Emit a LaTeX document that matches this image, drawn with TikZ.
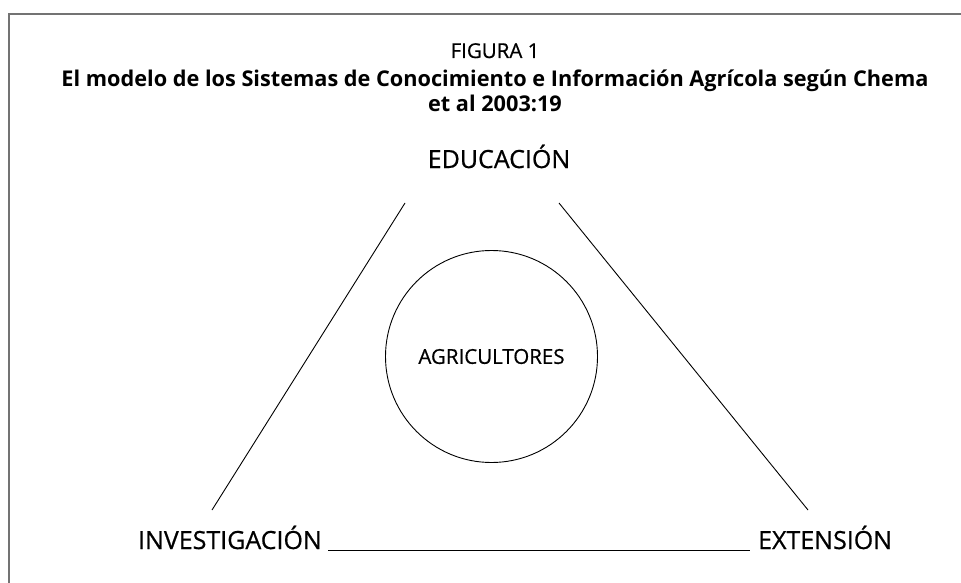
\documentclass[tikz,border=0pt]{standalone}
\usepackage{fontspec}
\setmainfont{Open Sans}[UprightFeatures={FakeBold=0.6}]
\usepackage{tikz}
\usetikzlibrary{calc}
\tikzset{
  marco/.style={draw=black!55,line width=1.4pt},
  linea/.style={draw=black,line width=0.9pt},
  rotulo/.style={inner sep=0pt,font=\fontsize{25}{28}\selectfont},
  titulo/.style={inner sep=0pt,align=center,font=\fontsize{21.7}{24.5}\bfseries\selectfont},
  centro/.style={circle,draw,line width=0.9pt,minimum size=212pt,inner sep=0pt,font=\fontsize{20.5}{24}\selectfont}
}

\begin{document}
\begin{tikzpicture}[x=1pt,y=-1pt]
  \useasboundingbox (0,0) rectangle (961,583);
  % marco de la figura
  \draw[marco] (9,590) -- (9,14) -- (970,14);
  \node[inner sep=0pt,anchor=base,font=\fontsize{20.5}{24}\selectfont] (fig) at (495,58) {FIGURA 1};
  \node[titulo,anchor=north] (tit) at (495,70) {El modelo de los Sistemas de Conocimiento e Informaci\'on Agr\'icola seg\'un Chema\\ et al 2003:19};
  \node[rotulo,anchor=base] (edu) at (499,168) {EDUCACI\'ON};
  \node[centro] (agr) at (491.5,356.5) {AGRICULTORES};
  \node[rotulo,anchor=base east] (inv) at (322,549) {INVESTIGACI\'ON};
  \node[rotulo,anchor=base west] (ext) at (758,549) {EXTENSI\'ON};
  % lados del triangulo
  \coordinate (ia) at (405,203);
  \coordinate (ib) at (212,510);
  \coordinate (da) at (559,203);
  \coordinate (db) at (808,510);
  \draw[linea] (ia) -- (ib);
  \draw[linea] (da) -- (db);
  \draw[linea] ([xshift=6pt,yshift=-1pt]inv.base east) -- ([xshift=-8pt,yshift=-1pt]ext.base west);
\end{tikzpicture}
\end{document}
